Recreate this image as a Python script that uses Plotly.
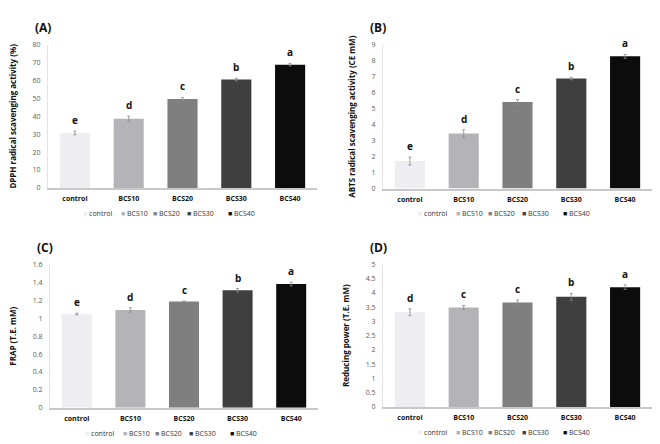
import plotly.graph_objects as go

categories = ["control", "BCS10", "BCS20", "BCS30", "BCS40"]
colors = ["#EDEDF2", "#B4B3B7", "#7F7F7F", "#3F3F3F", "#0C0C0C"]

dpph = [30.7, 38.7, 49.7, 60.6, 68.9]
dpph_err = [1.0, 1.5, 0.9, 0.7, 0.7]
dpph_letters = ["e", "d", "c", "b", "a"]

abts = [1.72, 3.44, 5.42, 6.89, 8.28]
abts_err = [0.25, 0.25, 0.15, 0.08, 0.12]
abts_letters = ["e", "d", "c", "b", "a"]

frap = [1.05, 1.095, 1.19, 1.315, 1.385]
frap_err = [0.01, 0.025, 0.005, 0.02, 0.02]
frap_letters = ["e", "d", "c", "b", "a"]

reduc = [3.32, 3.49, 3.66, 3.86, 4.20]
reduc_err = [0.12, 0.07, 0.09, 0.12, 0.08]
reduc_letters = ["d", "c", "c", "b", "a"]

W, H = 660, 444
panels = [
    dict(tag="(A)", vals=dpph, err=dpph_err, letters=dpph_letters,
         title="DPPH radical scavenging activity (%)", rng=[0, 80], dtick=10,
         px=(48, 317), py=(186.7, 40.7)),
    dict(tag="(B)", vals=abts, err=abts_err, letters=abts_letters,
         title="ABTS radical scavenging activity (CE mM)", rng=[0, 9], dtick=1,
         px=(383, 652), py=(187.3, 40.7)),
    dict(tag="(C)", vals=frap, err=frap_err, letters=frap_letters,
         title="FRAP (T.E. mM)", rng=[0, 1.6], dtick=0.2,
         px=(50, 318), py=(411, 265.3)),
    dict(tag="(D)", vals=reduc, err=reduc_err, letters=reduc_letters,
         title="Reducing power (T.E. mM)", rng=[0, 5], dtick=0.5,
         px=(383, 652), py=(410.3, 264.7)),
]
legend_offsets = [33, 71, 103, 137, 178]

FONT = "Open Sans"
fig = go.Figure()
annotations = []
layout = dict(
    width=W, height=H, margin=dict(l=0, r=0, t=0, b=0),
    paper_bgcolor="white", plot_bgcolor="white", showlegend=False,
    barmode="overlay", font=dict(family=FONT, size=7, color="#595959"),
)

for i, p in enumerate(panels):
    n = "" if i == 0 else str(i + 1)
    xa, ya = "x" + n, "y" + n
    xdom = [p["px"][0] / W, p["px"][1] / W]
    ydom = [1 - p["py"][0] / H, 1 - p["py"][1] / H]
    for j, cat in enumerate(categories):
        fig.add_trace(go.Bar(
            x=[cat], y=[p["vals"][j]], xaxis=xa, yaxis=ya,
            name=cat, marker=dict(color=colors[j], line=dict(width=0)),
            width=0.56,
            error_y=dict(type="data", array=[p["err"][j]], color="#8C8C8C",
                         thickness=0.8, width=1.5),
        ))
        annotations.append(dict(
            x=cat, y=p["vals"][j] + p["err"][j], xref=xa, yref=ya,
            text="<b>" + p["letters"][j] + "</b>", showarrow=False,
            yanchor="bottom", yshift=2,
            font=dict(family=FONT, size=10, color="#111111"),
        ))
        annotations.append(dict(
            x=(p["px"][0] + legend_offsets[j]) / W, y=1 - (p["py"][0] + 26) / H,
            xref="paper", yref="paper", xanchor="left", yanchor="middle",
            text="<span style='color:%s'>■</span> %s" % (colors[j], cat),
            showarrow=False, font=dict(family=FONT, size=7, color="#333333"),
        ))
    layout["xaxis" + n] = dict(
        domain=xdom, anchor=ya, type="category",
        categoryorder="array", categoryarray=categories,
        range=[-0.5, 4.5], showline=True, linecolor="#C8C8C8", linewidth=2,
        ticks="", showgrid=False, zeroline=False, ticklabelstandoff=3,
        tickfont=dict(family=FONT, size=7, color="#111111", weight="bold"),
    )
    layout["yaxis" + n] = dict(
        domain=ydom, anchor=xa, range=p["rng"], dtick=p["dtick"],
        showline=True, linecolor="#E3E3E3", linewidth=1,
        ticks="", showgrid=False, zeroline=False, ticklabelstandoff=5,
        tickfont=dict(family=FONT, size=7, color="#595959"),
        title=dict(text="<b>" + p["title"] + "</b>", standoff=14,
                   font=dict(family=FONT, size=8, color="#111111")),
    )
    annotations.append(dict(
        x=(p["px"][0] - 15) / W, y=1 - (p["py"][1] - 17.5) / H,
        xref="paper", yref="paper",
        text="<b>" + p["tag"] + "</b>", showarrow=False,
        xanchor="left", yanchor="middle",
        font=dict(family=FONT, size=12, color="#111111"),
    ))

layout["annotations"] = annotations
fig.update_layout(**layout)
fig.write_html("out.html", config={"displayModeBar": False, "staticPlot": True},
               post_script="document.body.style.margin='0';")
